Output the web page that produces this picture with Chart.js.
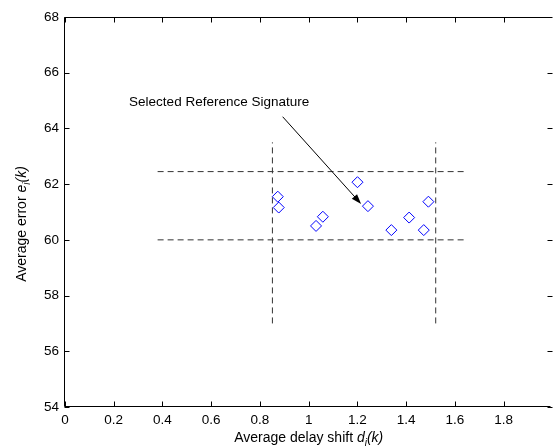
<!DOCTYPE html>
<html>
<head>
<meta charset="utf-8">
<script src="https://cdn.jsdelivr.net/npm/chart.js@4/dist/chart.umd.min.js"></script>
<style>
  html, body { margin: 0; padding: 0; background: #fff; }
  #wrap { width: 557px; height: 446px; }
</style>
</head>
<body>
<div id="wrap"><canvas id="chart"></canvas></div>
<script>
// signature points: average delay shift d_i(k) vs average error e_i(k)
const delayShift = [0.873, 0.877, 1.030, 1.058, 1.200, 1.243, 1.339, 1.412, 1.472, 1.491];
const avgError   = [61.55, 61.16, 60.50, 60.83, 62.07, 61.21, 60.35, 60.80, 60.35, 61.37];

// dashed window around the signatures
const bandX     = [0.38, 1.65];
const bandLowY  = [60.0, 60.0];
const bandHighY = [62.45, 62.45];
const winLeftX  = [0.851, 0.851];
const winRightX = [1.521, 1.521];
const winY      = [57.0, 63.5];

// annotation: label + arrow pointing at the chosen signature
const noteText  = 'Selected Reference Signature';
const notePos   = [0.263, 64.82];
const arrowFrom = [0.893, 64.42];
const arrowTo   = [1.215, 61.29];

const xTicks = [0, 0.2, 0.4, 0.6, 0.8, 1, 1.2, 1.4, 1.6, 1.8];
const yTicks = [54, 56, 58, 60, 62, 64, 66, 68];

const FONT = 'Liberation Sans, Arial, sans-serif';

function pts(xs, ys) { return xs.map((v, i) => ({x: v, y: ys[i]})); }

function dashed(xs, ys) {
    return {
        type: 'line', data: pts(xs, ys), showLine: true,
        borderColor: '#333', borderWidth: 1, borderDash: [6, 4],
        pointRadius: 0, fill: false
    };
}

// text with italic / subscript pieces, centred on x
function richText(ctx, parts, x, y, size) {
    let total = 0;
    parts.forEach(p => {
        ctx.font = (p.it ? 'italic ' : '') + (p.sub ? size * 0.72 : size) + 'px ' + FONT;
        p.w = ctx.measureText(p.t).width;
        total += p.w;
    });
    let cx = x - total / 2;
    parts.forEach(p => {
        ctx.font = (p.it ? 'italic ' : '') + (p.sub ? size * 0.72 : size) + 'px ' + FONT;
        ctx.fillText(p.t, cx, y + (p.sub ? size * 0.3 : 0));
        cx += p.w;
    });
}

const frame = {
    id: 'frame',
    afterDatasetsDraw(chart) {
        const {ctx, chartArea: a, scales: {x, y}} = chart;
        const L = Math.round(a.left) - 0.5, T = Math.round(a.top) + 0.5, B = Math.round(a.bottom) - 0.5;
        const R = a.right;
        ctx.save();
        ctx.strokeStyle = '#000';
        ctx.fillStyle = '#000';
        ctx.lineWidth = 1;
        ctx.setLineDash([]);
        ctx.beginPath();
        ctx.moveTo(R, T); ctx.lineTo(L, T); ctx.lineTo(L, B); ctx.lineTo(R, B);
        ctx.stroke();

        // inward tick marks on all four sides
        ctx.beginPath();
        xTicks.forEach(v => {
            const px = Math.round(x.getPixelForValue(v)) + 0.5;
            ctx.moveTo(px, B); ctx.lineTo(px, B - 5);
            ctx.moveTo(px, T); ctx.lineTo(px, T + 5);
        });
        yTicks.forEach(v => {
            const py = Math.round(y.getPixelForValue(v)) + 0.5;
            ctx.moveTo(L, py); ctx.lineTo(L + 5, py);
            ctx.moveTo(R + 2, py); ctx.lineTo(R - 3, py);
        });
        ctx.stroke();

        // arrow
        const x0 = x.getPixelForValue(arrowFrom[0]), y0 = y.getPixelForValue(arrowFrom[1]);
        const x1 = x.getPixelForValue(arrowTo[0]), y1 = y.getPixelForValue(arrowTo[1]);
        const ang = Math.atan2(y1 - y0, x1 - x0);
        ctx.beginPath();
        ctx.moveTo(x0, y0); ctx.lineTo(x1 - 8 * Math.cos(ang), y1 - 8 * Math.sin(ang));
        ctx.stroke();
        ctx.beginPath();
        ctx.moveTo(x1, y1);
        ctx.lineTo(x1 - 10 * Math.cos(ang) + 3.5 * Math.sin(ang), y1 - 10 * Math.sin(ang) - 3.5 * Math.cos(ang));
        ctx.lineTo(x1 - 10 * Math.cos(ang) - 3.5 * Math.sin(ang), y1 - 10 * Math.sin(ang) + 3.5 * Math.cos(ang));
        ctx.closePath();
        ctx.fill();

        // annotation label
        ctx.font = '13.5px ' + FONT;
        ctx.textBaseline = 'alphabetic';
        ctx.textAlign = 'left';
        ctx.fillText(noteText, x.getPixelForValue(notePos[0]), y.getPixelForValue(notePos[1]));

        // axis titles
        richText(ctx, [
            {t: 'Average delay shift '}, {t: 'd', it: true}, {t: 'i', it: true, sub: true}, {t: '(k)', it: true}
        ], (a.left + a.right + 2) / 2, 442, 14);

        ctx.translate(26, (a.top + a.bottom) / 2 + 12);
        ctx.rotate(-Math.PI / 2);
        richText(ctx, [
            {t: 'Average error '}, {t: 'e', it: true}, {t: 'i', it: true, sub: true}, {t: '(k)', it: true}
        ], 0, 0, 14);
        ctx.restore();
    }
};

new Chart(document.getElementById('chart'), {
    type: 'scatter',
    data: {
        datasets: [
            dashed(bandX, bandLowY),
            dashed(bandX, bandHighY),
            dashed(winLeftX, winY),
            dashed(winRightX, winY),
            {
                data: pts(delayShift, avgError),
                pointStyle: 'rectRot', pointRadius: 5.5, pointHoverRadius: 5.5,
                pointBorderColor: '#0000ff', pointBackgroundColor: 'rgba(255,255,255,0)',
                pointHoverBorderColor: '#0000ff', pointHoverBackgroundColor: 'rgba(255,255,255,0)',
                borderColor: '#0000ff', backgroundColor: 'rgba(255,255,255,0)',
                pointBorderWidth: 1, borderWidth: 1
            }
        ]
    },
    options: {
        responsive: true,
        maintainAspectRatio: false,
        animation: false,
        events: [],
        layout: {padding: {top: 17, right: 0, left: 0, bottom: 0}},
        plugins: {legend: {display: false}, tooltip: {enabled: false}},
        scales: {
            x: {
                type: 'linear', min: 0, max: 1.992,
                afterBuildTicks: s => { s.ticks = xTicks.map(v => ({value: v})); },
                afterFit: s => { s.height = 39; },
                grid: {display: false, drawTicks: false},
                border: {display: false},
                ticks: {
                    padding: 5, color: '#000', maxRotation: 0, autoSkip: false,
                    font: {family: FONT, size: 13.5},
                    callback: v => String(v)
                }
            },
            y: {
                type: 'linear', min: 54, max: 68,
                afterBuildTicks: s => { s.ticks = yTicks.map(v => ({value: v})); },
                afterFit: s => { s.width = 65; },
                grid: {display: false, drawTicks: false},
                border: {display: false},
                ticks: {
                    padding: 6, color: '#000',
                    font: {family: FONT, size: 13.5},
                    callback: v => String(v)
                }
            }
        }
    },
    plugins: [frame]
});
</script>
</body>
</html>
